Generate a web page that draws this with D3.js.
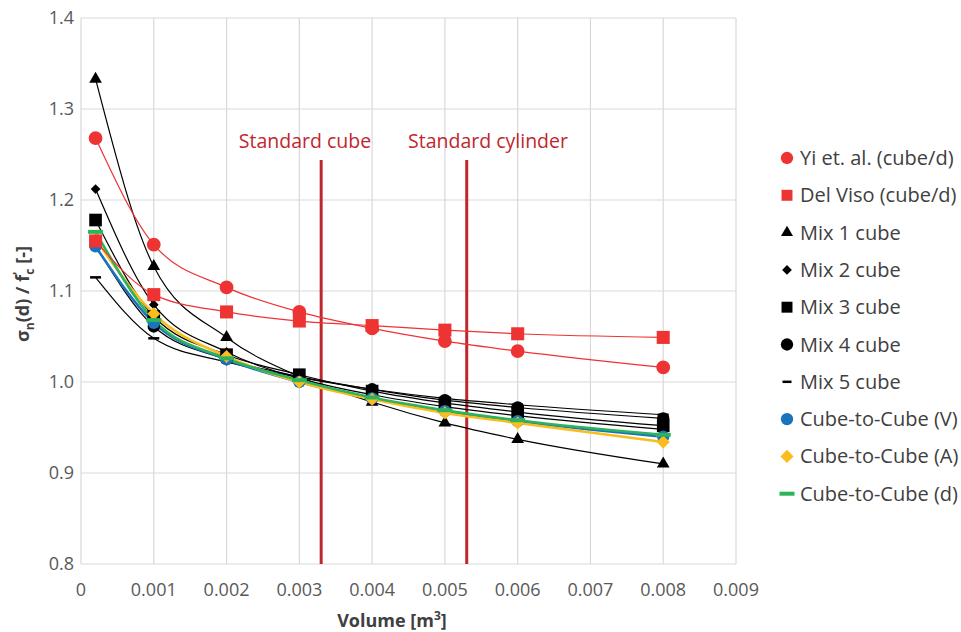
<!DOCTYPE html>
<html>
<head>
<meta charset="utf-8">
<script src="https://cdn.jsdelivr.net/npm/d3@7"></script>
<style>
  body { margin: 0; background: #fff; }
  text { font-family: "Open Sans", Lato, sans-serif; }
</style>
</head>
<body>
<svg id="chart" width="961" height="632"></svg>
<script>
const volumes = [0.0002, 0.001, 0.002, 0.003, 0.004, 0.005, 0.006, 0.008];

const yiEtAl  = [1.268, 1.151, 1.104, 1.077, 1.059, 1.045, 1.034, 1.016];
const delViso = [1.155, 1.096, 1.077, 1.067, 1.062, 1.057, 1.053, 1.049];
const mix1    = [1.333, 1.127, 1.049, 1.006, 0.978, 0.955, 0.937, 0.910];
const mix2    = [1.212, 1.085, 1.033, 1.004, 0.986, 0.973, 0.963, 0.948];
const mix3    = [1.178, 1.072, 1.030, 1.008, 0.990, 0.977, 0.967, 0.952];
const mix4    = [1.150, 1.061, 1.025, 1.006, 0.992, 0.980, 0.972, 0.960];
const mix5    = [1.115, 1.048, 1.022, 1.005, 0.992, 0.982, 0.975, 0.964];
const c2cV    = [1.149, 1.065, 1.025, 1.000, 0.982, 0.968, 0.957, 0.940];
const c2cA    = [1.157, 1.075, 1.028, 1.000, 0.981, 0.966, 0.955, 0.934];
const c2cD    = [1.165, 1.068, 1.026, 1.002, 0.983, 0.969, 0.958, 0.942];

const seriesNames = ["Yi et. al. (cube/d)", "Del Viso (cube/d)", "Mix 1 cube", "Mix 2 cube", "Mix 3 cube",
  "Mix 4 cube", "Mix 5 cube", "Cube-to-Cube (V)", "Cube-to-Cube (A)", "Cube-to-Cube (d)"];
const seriesValues = [yiEtAl, delViso, mix1, mix2, mix3, mix4, mix5, c2cV, c2cA, c2cD];

const xTicks = [0, 0.001, 0.002, 0.003, 0.004, 0.005, 0.006, 0.007, 0.008, 0.009];
const yTicks = [0.8, 0.9, 1.0, 1.1, 1.2, 1.3, 1.4];

const standards = [{label: "Standard cube", v: 0.0033, lx: 305}, {label: "Standard cylinder", v: 0.0053, lx: 488}];

// look of each series: marker, colour, line
const styles = [
  {shape: "circle",   size: 150, color: "#ee3333", line: "#ee3333", lw: 1.2},
  {shape: "square",   size: 170, color: "#ee3333", line: "#ee3333", lw: 1.2},
  {shape: "triangle", size: 70,  color: "#000",    line: "#000",    lw: 1.2},
  {shape: "diamond",  size: 60,  color: "#000",    line: "#000",    lw: 1.2},
  {shape: "square",   size: 160, color: "#000",    line: "#000",    lw: 1.2},
  {shape: "circle",   size: 120, color: "#000",    line: "#000",    lw: 1.2},
  {shape: "dash",     w: 11, h: 2.5, color: "#000", line: "#000",   lw: 1.2},
  {shape: "circle",   size: 120, color: "#1b72bd", line: "#1b72bd", lw: 2.6},
  {shape: "diamond",  size: 110, color: "#fbbd1e", line: "#fbbd1e", lw: 2.6},
  {shape: "dash",     w: 15, h: 4, color: "#2eb35c", line: "#2eb35c", lw: 2.6}
];

const svg = d3.select("#chart");
const pLeft = 81, pRight = 736, pTop = 18, pBottom = 564;

const x = d3.scaleLinear().domain([0, 0.009]).range([pLeft, pRight]);
const y = d3.scaleLinear().domain([0.8, 1.4]).range([pBottom, pTop]);

// grid
svg.append("g").selectAll("line").data(xTicks).join("line")
  .attr("x1", d => x(d)).attr("x2", d => x(d)).attr("y1", pTop).attr("y2", pBottom)
  .attr("stroke", "#d9d9d9").attr("stroke-width", 1.2);
svg.append("g").selectAll("line").data(yTicks).join("line")
  .attr("x1", pLeft).attr("x2", pRight).attr("y1", d => y(d)).attr("y2", d => y(d))
  .attr("stroke", "#d9d9d9").attr("stroke-width", 1.2);

// tick labels
svg.append("g").selectAll("text").data(xTicks).join("text")
  .attr("x", d => x(d)).attr("y", 596).attr("text-anchor", "middle")
  .attr("fill", "#595959").attr("font-size", 18)
  .text(d => d === 0 ? "0" : d3.format(".3f")(d));
svg.append("g").selectAll("text").data(yTicks).join("text")
  .attr("x", pLeft - 7).attr("y", d => y(d) + 6).attr("text-anchor", "end")
  .attr("fill", "#595959").attr("font-size", 18)
  .text(d => d3.format(".1f")(d));

// axis titles
svg.append("text").attr("x", 392).attr("y", 627).attr("text-anchor", "middle")
  .attr("font-size", 18).attr("font-weight", "bold").attr("fill", "#404040")
  .html('Volume [m<tspan font-size="12" dy="-7">3</tspan><tspan dy="7">]</tspan>');
svg.append("text").attr("transform", `translate(29, ${(pTop + pBottom) / 2 + 3}) rotate(-90)`)
  .attr("text-anchor", "middle").attr("font-size", 18).attr("font-weight", "bold").attr("fill", "#404040")
  .html('σ<tspan font-size="12" dy="5">n</tspan><tspan dy="-5">(d) / f</tspan><tspan font-size="12" dy="-7">\'</tspan><tspan font-size="12" dy="12" dx="-3">c</tspan><tspan dy="-5"> [-]</tspan>');

// standard specimen lines
standards.forEach(s => {
  svg.append("line").attr("x1", x(s.v)).attr("x2", x(s.v)).attr("y1", 160).attr("y2", pBottom)
    .attr("stroke", "#c0272d").attr("stroke-width", 3);
  svg.append("text").attr("x", s.lx).attr("y", 148).attr("text-anchor", "middle")
    .attr("fill", "#c0272d").attr("font-size", 19.5).text(s.label);
});

const line = d3.line().x(d => x(d[0])).y(d => y(d[1])).curve(d3.curveMonotoneX);

function drawMarker(g, st, cx, cy) {
  if (st.shape === "dash") {
    g.append("rect").attr("x", cx - st.w / 2).attr("y", cy - st.h / 2)
      .attr("width", st.w).attr("height", st.h).attr("fill", st.color);
  } else {
    const type = {circle: d3.symbolCircle, square: d3.symbolSquare, triangle: d3.symbolTriangle, diamond: d3.symbolDiamond2}[st.shape];
    g.append("path").attr("d", d3.symbol().type(type).size(st.size)())
      .attr("transform", `translate(${cx},${cy})`).attr("fill", st.color);
  }
}

// lines first, then markers
const order = [2, 3, 4, 5, 6, 7, 8, 9, 0, 1];
order.forEach(i => {
  const pts = volumes.map((v, j) => [v, seriesValues[i][j]]);
  svg.append("path").attr("d", line(pts)).attr("fill", "none")
    .attr("stroke", styles[i].line).attr("stroke-width", styles[i].lw);
});
order.forEach(i => {
  const g = svg.append("g");
  volumes.forEach((v, j) => drawMarker(g, styles[i], x(v), y(seriesValues[i][j])));
});

// legend
const legend = svg.append("g");
seriesNames.forEach((name, i) => {
  const ly = 158 + i * 37.3;
  const st = styles[i];
  const small = Object.assign({}, st);
  if (st.size) small.size = Math.min(st.size, 120) * (st.shape === "triangle" ? 0.9 : 1);
  if (st.shape === "dash") { small.w = st.w === 15 ? 15 : 9; small.h = st.h; }
  drawMarker(legend, small, 787, ly);
  legend.append("text").attr("x", 800).attr("y", ly + 7).attr("font-size", 20)
    .attr("fill", "#404040").text(name);
});
</script>
</body>
</html>
